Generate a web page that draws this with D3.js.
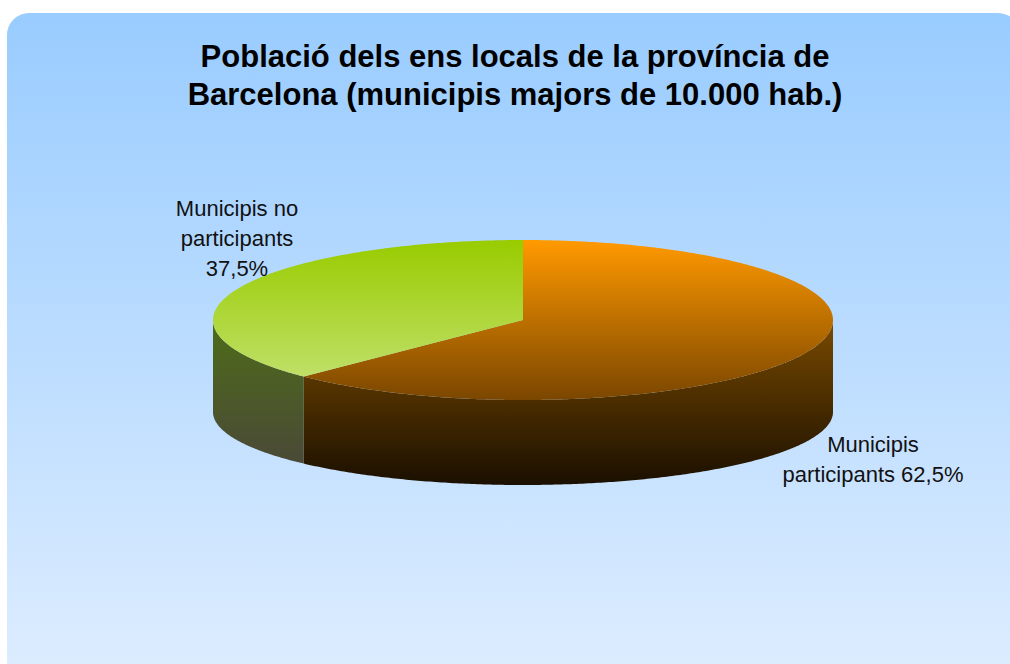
<!DOCTYPE html>
<html>
<head>
<meta charset="utf-8">
<script src="https://cdn.jsdelivr.net/npm/d3@7"></script>
<style>
  html, body { margin: 0; padding: 0; background: #ffffff; }
  svg { display: block; font-family: "Liberation Sans", Arial, sans-serif; }
</style>
</head>
<body>
<div id="chart"></div>
<script>
// data
const categories = ["Municipis participants", "Municipis no participants"];
const values = [62.5, 37.5];
const labelLines = [["Municipis", "participants 62,5%"], ["Municipis no", "participants", "37,5%"]];
const titleLines = ["Població dels ens locals de la província de", "Barcelona (municipis majors de 10.000 hab.)"];

const width = 1010, height = 664;

// pie geometry (flattened ellipse + wall)
const cx = 523, cy = 320, rx = 310, ry = 80;
const cyBottom = 412, ryBottom = 73;

const svg = d3.select("#chart")
    .append("svg")
    .attr("width", width)
    .attr("height", height);

const defs = svg.append("defs");

function vGrad(id, y1, y2, stops) {
    let g = defs.append("linearGradient")
        .attr("id", id)
        .attr("gradientUnits", "userSpaceOnUse")
        .attr("x1", 0).attr("x2", 0)
        .attr("y1", y1).attr("y2", y2);
    stops.forEach(s => g.append("stop").attr("offset", s[0]).attr("stop-color", s[1]));
}

vGrad("bg", 13, 664, [[0, "#99ccff"], [1, "#dcecff"]]);
vGrad("topOrange", 241, 400, [[0, "#ff9900"], [1, "#7a4600"]]);
vGrad("sideOrange", 320, 485, [[0, "#7a4a00"], [1, "#1a0f00"]]);
vGrad("topGreen", 241, 380, [[0, "#99cc00"], [1, "#c0e06a"]]);
vGrad("sideGreen", 320, 460, [[0, "#4e6c18"], [1, "#4a4a36"]]);

// background panel
svg.append("rect")
    .attr("x", 7).attr("y", 13)
    .attr("width", 1013).attr("height", 670)
    .attr("rx", 22).attr("ry", 22)
    .attr("fill", "url(#bg)");

// title
svg.append("g")
    .selectAll("text")
    .data(titleLines)
    .enter()
    .append("text")
    .attr("x", 515)
    .attr("y", (d, i) => 67 + i * 38)
    .attr("text-anchor", "middle")
    .attr("font-size", 31)
    .attr("font-weight", "bold")
    .attr("fill", "#000")
    .text(d => d);

const pie = d3.pie().sort(null).startAngle(0).endAngle(2 * Math.PI);
const arcs = pie(values);

const tops = ["url(#topOrange)", "url(#topGreen)"];
const sides = ["url(#sideOrange)", "url(#sideGreen)"];

function pt(a, yc, r) {
    return [cx + rx * Math.sin(a), yc - r * Math.cos(a)];
}
function arcPoints(a0, a1, yc, r) {
    let n = Math.max(2, Math.ceil((a1 - a0) / 0.01));
    return d3.range(n + 1).map(i => pt(a0 + (a1 - a0) * i / n, yc, r));
}
const line = d3.line();

// side walls (front half only: angles from PI/2 to 3PI/2)
const sideG = svg.append("g").attr("class", "sides");
arcs.forEach(function (d, i) {
    let s0 = Math.max(d.startAngle, Math.PI / 2);
    let s1 = Math.min(d.endAngle, 3 * Math.PI / 2);
    if (s1 <= s0) return;
    let pts = arcPoints(s0, s1, cy, ry).concat(arcPoints(s0, s1, cyBottom, ryBottom).reverse());
    sideG.append("path")
        .attr("d", line(pts) + "Z")
        .attr("fill", sides[i]);
});

// top faces
svg.append("g")
    .attr("class", "tops")
    .selectAll("path")
    .data(arcs)
    .enter()
    .append("path")
    .attr("d", d => line([[cx, cy]].concat(arcPoints(d.startAngle, d.endAngle, cy, ry))) + "Z")
    .attr("fill", (d, i) => tops[i]);

// labels
const labelPos = [[873, 452], [237, 216]];
const labels = svg.append("g").attr("class", "labels");
labelLines.forEach(function (lines, i) {
    labels.append("text")
        .attr("text-anchor", "middle")
        .attr("font-size", 22)
        .attr("fill", "#111")
        .selectAll("tspan")
        .data(lines)
        .enter()
        .append("tspan")
        .attr("x", labelPos[i][0])
        .attr("y", (d, j) => labelPos[i][1] + j * 30)
        .text(d => d);
});
</script>
</body>
</html>
